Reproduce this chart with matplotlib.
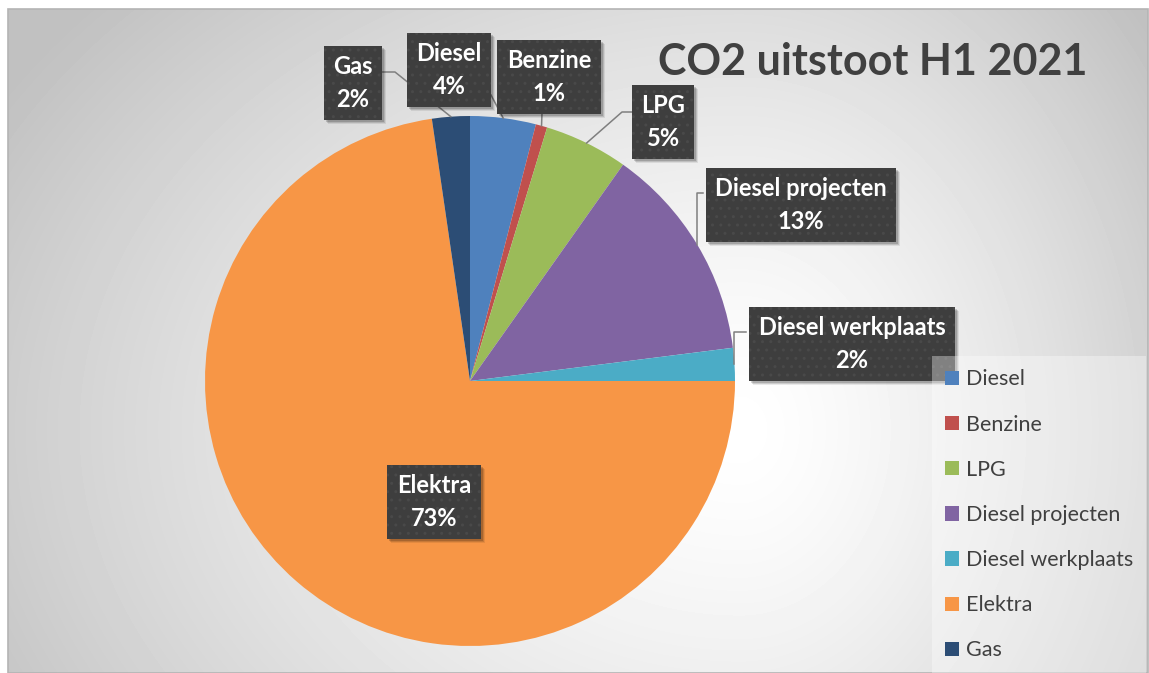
import numpy as np
import matplotlib
matplotlib.use("Agg")
import matplotlib.pyplot as plt
from matplotlib.patches import Rectangle, Patch

# data
labels = ["Diesel", "Benzine", "LPG", "Diesel projecten", "Diesel werkplaats", "Elektra", "Gas"]
values = [4.0, 0.7, 5.1, 13.2, 2.0, 72.7, 2.3]
colors = ["#4F81BD", "#C0504D", "#9BBB59", "#8064A2", "#4BACC6", "#F79646", "#2C4D75"]
title = "CO2 uitstoot H1 2021"

W, H = 1149, 673
plt.rcParams["font.family"] = ["Lato", "DejaVu Sans"]


def P(px, py):
	# pixel (y down) -> data (y up)
	return px, H - py


# label box centres and leader anchors in pixels
label_pos = {"Gas": (353, 83), "Diesel": (449, 70), "Benzine": (549, 77), "LPG": (663, 122),
	"Diesel projecten": (801, 205), "Diesel werkplaats": (852, 344), "Elektra": (434, 502)}
leader = {"Gas": ((382, 72), 13), "Diesel": ((491, 95), None), "Benzine": ((542, 113), None),
	"LPG": ((633, 112), -11), "Diesel projecten": ((703, 193), "x"),
	"Diesel werkplaats": ((746, 332), "x")}

fig = plt.figure(figsize=(W / 100, H / 100), dpi=100)
ax = fig.add_axes([0, 0, 1, 1])
ax.set_xlim(0, W)
ax.set_ylim(0, H)

# background gradient inside chart frame
x0, x1, y0, y1 = 8, 1148, 9, 673
xs = np.arange(x0, x1) + 0.5
ys = np.arange(y0, y1) + 0.5
X, Y = np.meshgrid(xs, ys)
gx, gy = 740, 430
dx = np.where(X < gx, (X - gx) / 860.0, (X - gx) / 520.0)
dy = (Y - gy) / 640.0
d = np.clip(np.sqrt(dx ** 2 + dy ** 2), 0, 1)
img = (255 - 62 * d ** 1.4) / 255.0
ax.imshow(img, extent=(x0, x1, H - y1, H - y0), origin="upper", cmap="gray",
	vmin=0, vmax=1, zorder=0, interpolation="bilinear")
ax.add_patch(Rectangle(P(x0, y1), x1 - x0, y1 - y0, fill=False, edgecolor="#b4b4b4", lw=1.2, zorder=1))

# pie
cx, cy = P(470, 381)
r = 265
ax.pie(values, colors=colors, startangle=90, counterclock=False, center=(cx, cy), radius=r,
	wedgeprops=dict(linewidth=0, zorder=2))
ax.set_xlim(0, W)
ax.set_ylim(0, H)
ax.set_aspect("auto")
ax.axis("off")

total = sum(values)
cum = 0
label_texts = []
for lab, v in zip(labels, values):
	theta = np.deg2rad(360 * (cum + v / 2) / total)
	cum += v
	ex, ey = cx + r * np.sin(theta), cy + r * np.cos(theta)
	if lab in leader:
		(ax_, ay_), stub = leader[lab]
		axd, ayd = P(ax_, ay_)
		if stub is None:
			pts = [(axd, ayd), (ex, ey)]
		elif stub == "x":
			pts = [(axd, ayd), (ex, ayd), (ex, ey)]
		else:
			pts = [(axd, ayd), (axd + stub, ayd), (ex, ey)]
		ax.plot([p[0] for p in pts], [p[1] for p in pts], color="#7f7f7f", lw=1.1, zorder=3)
	pct = round(100 * v / total)
	tx, ty = P(*label_pos[lab])
	t = ax.text(tx, ty, f"{lab}\n{pct}%", ha="center", va="center", multialignment="center",
		fontsize=17, fontweight="bold", color="white", linespacing=1.5, zorder=5,
		bbox=dict(boxstyle="square,pad=0.4", facecolor="#3e3e3e", edgecolor="#494949",
			hatch="..", lw=0))
	label_texts.append(t)

ax.text(*P(873, 62), title, ha="center", va="center", fontsize=31, fontweight="bold",
	color="#404040", zorder=5)

# soft shadows behind the label boxes
fig.canvas.draw()
inv = ax.transData.inverted()
for t in label_texts:
	bb = t.get_bbox_patch().get_window_extent()
	(bx0, by0), (bx1, by1) = inv.transform([(bx0_, by0_) for bx0_, by0_ in [(bb.x0, bb.y0), (bb.x1, bb.y1)]])
	for k, a in [(4, 0.08), (3, 0.12), (2, 0.16)]:
		ax.add_patch(Rectangle((bx0 + k, by0 - k), bx1 - bx0, by1 - by0, facecolor="black",
			alpha=a, lw=0, zorder=4))

handles = [Patch(facecolor=c, edgecolor="none") for c in colors]
leg = ax.legend(handles, labels, loc="upper left", bbox_to_anchor=(932 / W, 1 - 356 / H),
	bbox_transform=fig.transFigure, fontsize=15.5, frameon=True, fancybox=False,
	labelspacing=1.17, handlelength=0.65, handleheight=0.65, handletextpad=0.3,
	borderpad=0.62, borderaxespad=0)
leg.get_frame().set_facecolor("white")
leg.get_frame().set_alpha(0.35)
leg.get_frame().set_edgecolor("none")
for txt in leg.get_texts():
	txt.set_color("#404040")
leg.set_zorder(6)

fig.savefig("out.png", dpi=100, facecolor="white")
